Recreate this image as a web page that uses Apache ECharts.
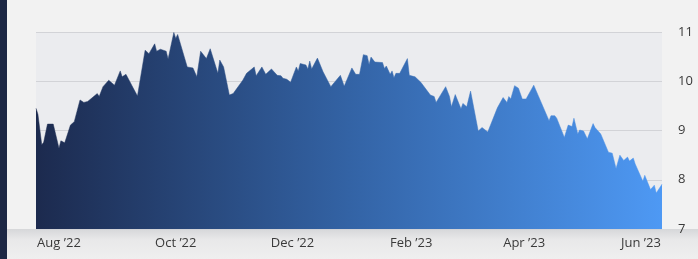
<!DOCTYPE html>
<html>
<head>
<meta charset="utf-8">
<script src="https://cdn.jsdelivr.net/npm/echarts@6/dist/echarts.min.js"></script>
<style>
  html, body { margin: 0; padding: 0; background: #f2f2f2; }
  #priceChart { width: 698px; height: 259px; }
</style>
</head>
<body>
<div id="priceChart"></div>
<script>
  // price history
  var dates = [
    '2022-07-20', '2022-07-21', '2022-07-23', '2022-07-24', '2022-07-26', '2022-07-29',
    '2022-08-01', '2022-08-02', '2022-08-04', '2022-08-07', '2022-08-09', '2022-08-12', '2022-08-14',
    '2022-08-16', '2022-08-17', '2022-08-21', '2022-08-22', '2022-08-24', '2022-08-25', '2022-08-27', '2022-08-30',
    '2022-09-02', '2022-09-03', '2022-09-05', '2022-09-08', '2022-09-11', '2022-09-15', '2022-09-16',
    '2022-09-17', '2022-09-20', '2022-09-21', '2022-09-23', '2022-09-26', '2022-09-27', '2022-09-30',
    '2022-10-01', '2022-10-02', '2022-10-07', '2022-10-10', '2022-10-12', '2022-10-14', '2022-10-17',
    '2022-10-19', '2022-10-23', '2022-10-24', '2022-10-26', '2022-10-29', '2022-10-31',
    '2022-11-05', '2022-11-07', '2022-11-11', '2022-11-12', '2022-11-15', '2022-11-17', '2022-11-20',
    '2022-11-21', '2022-11-23', '2022-11-25', '2022-11-26', '2022-11-28', '2022-11-30',
    '2022-12-03', '2022-12-04', '2022-12-05', '2022-12-08', '2022-12-09', '2022-12-10', '2022-12-11',
    '2022-12-14', '2022-12-17', '2022-12-21', '2022-12-26', '2022-12-28',
    '2023-01-01', '2023-01-03', '2023-01-05', '2023-01-07', '2023-01-09', '2023-01-10', '2023-01-11',
    '2023-01-13', '2023-01-17', '2023-01-18', '2023-01-19', '2023-01-21', '2023-01-22', '2023-01-23',
    '2023-01-24', '2023-01-26', '2023-01-30', '2023-01-31',
    '2023-02-03', '2023-02-06', '2023-02-11', '2023-02-13', '2023-02-14', '2023-02-19', '2023-02-21',
    '2023-02-22', '2023-02-24', '2023-02-27', '2023-02-28',
    '2023-03-02', '2023-03-04', '2023-03-08', '2023-03-10', '2023-03-11', '2023-03-13', '2023-03-18',
    '2023-03-19', '2023-03-21', '2023-03-23', '2023-03-24', '2023-03-25', '2023-03-27', '2023-03-29', '2023-03-31',
    '2023-04-02', '2023-04-06', '2023-04-14', '2023-04-15', '2023-04-17', '2023-04-18', '2023-04-22',
    '2023-04-24', '2023-04-26', '2023-04-27', '2023-04-29', '2023-04-30',
    '2023-05-02', '2023-05-04', '2023-05-07', '2023-05-08', '2023-05-09', '2023-05-11', '2023-05-15',
    '2023-05-17', '2023-05-19', '2023-05-21', '2023-05-23', '2023-05-25', '2023-05-26', '2023-05-28', '2023-05-29',
    '2023-06-02', '2023-06-03', '2023-06-06', '2023-06-08', '2023-06-09', '2023-06-12'
  ]
  var values = [
    9.45, 9.33, 8.71, 8.76, 9.13, 9.13,
    8.64, 8.79, 8.75, 9.11, 9.18, 9.62, 9.57,
    9.59, 9.55, 9.75, 9.69, 9.89, 9.89, 10.02, 9.92,
    10.21, 10.09, 10.14, 9.92, 9.70, 10.63, 10.65,
    10.56, 10.76, 10.61, 10.65, 10.61, 10.45, 10.99,
    10.87, 10.95, 10.29, 10.27, 10.09, 10.61, 10.46,
    10.66, 10.16, 10.43, 10.29, 9.72, 9.75,
    10.02, 10.16, 10.29, 10.11, 10.29, 10.14, 10.25,
    10.23, 10.12, 10.11, 10.06, 10.04, 9.98,
    10.29, 10.21, 10.36, 10.33, 10.25, 10.41, 10.25,
    10.47, 10.19, 9.89, 10.12, 9.90,
    10.27, 10.14, 10.14, 10.54, 10.52, 10.34, 10.49,
    10.39, 10.38, 10.26, 10.31, 10.14, 10.21, 10.07,
    10.16, 10.16, 10.46, 10.12,
    10.09, 9.98, 9.72, 9.69, 9.57, 9.89, 9.69,
    9.48, 9.73, 9.44, 9.55,
    9.48, 9.80, 8.99, 9.06, 9.05, 8.97, 9.46,
    9.45, 9.67, 9.57, 9.69, 9.64, 9.91, 9.86, 9.64,
    9.64, 9.92, 9.20, 9.30, 9.30, 9.25, 8.86,
    9.11, 9.08, 9.25, 8.93, 9.01,
    8.99, 8.83, 9.14, 9.06, 9.08, 8.93, 8.56,
    8.54, 8.23, 8.50, 8.39, 8.46, 8.38, 8.44, 8.32,
    7.97, 8.09, 7.80, 7.89, 7.73, 7.91
  ]
  var tickDates = ['2022-08-01', '2022-10-01', '2022-12-01', '2023-02-01', '2023-04-01', '2023-06-01']
  var monthNames = ['Jan', 'Feb', 'Mar', 'Apr', 'May', 'Jun', 'Jul', 'Aug', 'Sep', 'Oct', 'Nov', 'Dec']

  function toTime (s) {
    var p = s.split('-')
    return Date.UTC(+p[0], +p[1] - 1, +p[2])
  }

  var seriesData = dates.map(function (d, i) {
    return [toTime(d), values[i]]
  })

  var fillColor = new echarts.graphic.LinearGradient(0, 0, 1, 0, [
    { offset: 0, color: '#1c2a4e' },
    { offset: 0.5, color: '#3363a5' },
    { offset: 1, color: '#4e99f4' }
  ])

  var option = {
    animation: false,
    textStyle: {
      fontFamily: 'Open Sans'
    },
    grid: {
      left: 36,
      right: 36,
      top: 32,
      bottom: 30,
      show: true,
      backgroundColor: '#ebecef',
      borderWidth: 0
    },
    graphic: [
      {
        type: 'rect',
        left: 0,
        top: 0,
        shape: { width: 7, height: 259 },
        style: { fill: '#1c2744' },
        silent: true
      },
      {
        type: 'rect',
        left: 7,
        top: 229,
        z: -1,
        shape: { width: 691, height: 30 },
        style: {
          fill: new echarts.graphic.LinearGradient(0, 0, 0, 1, [
            { offset: 0, color: '#d6d7d9' },
            { offset: 0.35, color: '#e8e8e9' },
            { offset: 1, color: '#efefef' }
          ])
        },
        silent: true
      }
    ],
    xAxis: {
      type: 'value',
      min: toTime(dates[0]),
      max: toTime(dates[dates.length - 1]),
      axisLine: { show: false },
      axisTick: { show: false },
      splitLine: { show: false },
      axisLabel: {
        customValues: tickDates.map(toTime),
        margin: 8,
        color: '#3a3a3a',
        fontSize: 13,
        formatter: function (val) {
          var d = new Date(val)
          return monthNames[d.getUTCMonth()] + ' \u2019' + String(d.getUTCFullYear()).slice(2)
        }
      }
    },
    yAxis: {
      type: 'value',
      position: 'right',
      min: 7,
      max: 11,
      interval: 1,
      axisLine: { show: false },
      axisTick: { show: false },
      axisLabel: {
        margin: 16,
        color: '#3a3a3a',
        fontSize: 13
      },
      splitLine: {
        lineStyle: { color: '#d2d3d7', width: 1 }
      }
    },
    series: [
      {
        name: 'Price',
        type: 'line',
        data: seriesData,
        showSymbol: false,
        symbol: 'none',
        lineStyle: { width: 0.5, color: fillColor },
        areaStyle: { opacity: 1, color: fillColor }
      }
    ]
  }

  var myChart = echarts.init(document.getElementById('priceChart'))
  myChart.setOption(option)
</script>
</body>
</html>
